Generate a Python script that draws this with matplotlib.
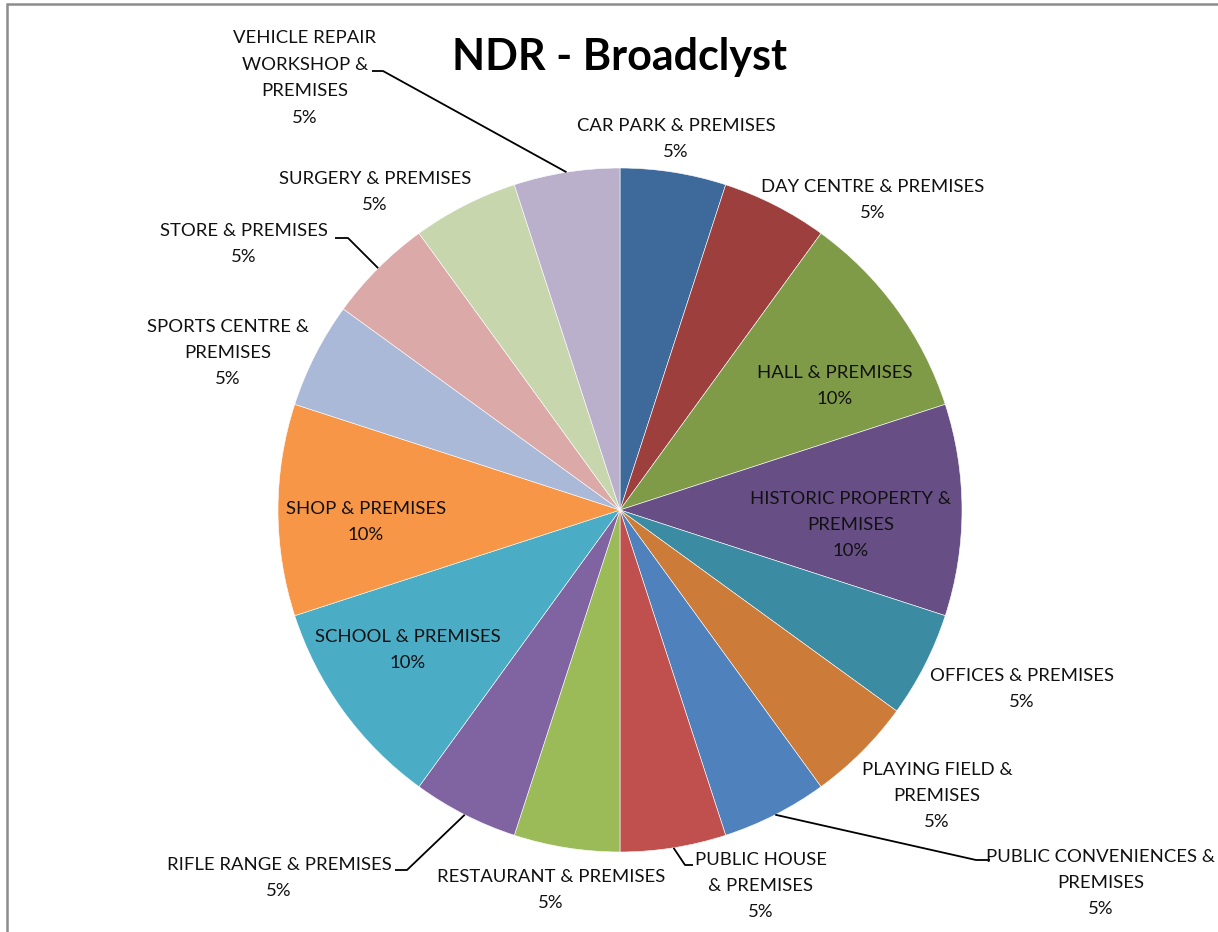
import numpy as np
import matplotlib.pyplot as plt
from matplotlib.patches import Rectangle

# data
categories = ['CAR PARK & PREMISES', 'DAY CENTRE & PREMISES', 'HALL & PREMISES',
              'HISTORIC PROPERTY & PREMISES', 'OFFICES & PREMISES', 'PLAYING FIELD & PREMISES',
              'PUBLIC CONVENIENCES & PREMISES', 'PUBLIC HOUSE & PREMISES', 'RESTAURANT & PREMISES',
              'RIFLE RANGE & PREMISES', 'SCHOOL & PREMISES', 'SHOP & PREMISES',
              'SPORTS CENTRE & PREMISES', 'STORE & PREMISES', 'SURGERY & PREMISES',
              'VEHICLE REPAIR WORKSHOP & PREMISES']
counts = [1, 1, 2, 2, 1, 1, 1, 1, 1, 1, 2, 2, 1, 1, 1, 1]
# how each label is wrapped in the reference
label_text = ['CAR PARK & PREMISES', 'DAY CENTRE & PREMISES', 'HALL & PREMISES',
              'HISTORIC PROPERTY &\nPREMISES', 'OFFICES & PREMISES', 'PLAYING FIELD &\nPREMISES',
              'PUBLIC CONVENIENCES &\nPREMISES', 'PUBLIC HOUSE\n& PREMISES', 'RESTAURANT & PREMISES',
              'RIFLE RANGE & PREMISES', 'SCHOOL & PREMISES', 'SHOP & PREMISES',
              'SPORTS CENTRE &\nPREMISES', 'STORE & PREMISES', 'SURGERY & PREMISES',
              'VEHICLE REPAIR\nWORKSHOP &\nPREMISES']
colors = ['#3E6A9B', '#9C3F3D', '#7F9B48', '#674F86', '#3B8CA3', '#CC7B38',
          '#4F81BD', '#C0504D', '#9BBB59', '#8064A2', '#4BACC6', '#F79646',
          '#AAB9D7', '#DBA9A8', '#C7D6AD', '#BAB0CB']

W, H = 1218, 932
# layout in image pixels (x, y from top)
center = (620, 510)
radius = 342
label_pos = [(676, 139), (873, 200), (835, 386), (851, 525), (1022, 689), (937, 796),
             (1101, 883), (761, 886), (551, 890), (279, 878), (408, 650), (366, 522),
             (228, 353), (244, 244), (375, 192), (305, 78)]
# leader lines: index -> (elbow, end) in image pixels
leaders = {
    6: [(976, 860), (990, 860)],
    7: [(685, 865), (693, 865)],
    9: [(407, 870), (395, 870)],
    13: [(348, 238), (335, 238)],
    15: [(383, 71), (372, 71)],
}

plt.rcParams['font.family'] = ['Lato', 'DejaVu Sans']

fig = plt.figure(figsize=(W / 100, H / 100), dpi=100)
ax = fig.add_axes([0, 0, 1, 1])


def py(y):
    return H - y


wedges, _ = ax.pie(counts, colors=colors, startangle=90, counterclock=False,
                   center=(center[0], py(center[1])), radius=radius,
                   wedgeprops=dict(edgecolor='white', linewidth=0.4), frame=True)
ax.set_xlim(0, W)
ax.set_ylim(0, H)
ax.set_aspect('equal')
ax.axis('off')

total = sum(counts)
for i, w in enumerate(wedges):
    pct = 100 * counts[i] / total
    ax.text(label_pos[i][0], py(label_pos[i][1]), f'{label_text[i]}\n{pct:.0f}%',
            ha='center', va='center', multialignment='center', fontsize=13.3,
            linespacing=1.8, color='#111111')
    if i in leaders:
        mid = np.deg2rad((w.theta1 + w.theta2) / 2)
        xs = [center[0] + radius * np.cos(mid)]
        ys = [py(center[1]) + radius * np.sin(mid)]
        for px, pyy in leaders[i]:
            xs.append(px)
            ys.append(py(pyy))
        ax.plot(xs, ys, color='black', lw=1.3, solid_capstyle='butt')

ax.text(620, py(57), 'NDR - Broadclyst', ha='center', va='center',
        fontsize=31, fontweight='bold', color='black')

# chart area border
fig.patches.append(Rectangle((7 / W, -0.1), 1.2, 1 - 3.5 / H + 0.1, transform=fig.transFigure,
                             fill=False, edgecolor='#8c8c8c', linewidth=1.8))

fig.savefig('out.png', dpi=100)
